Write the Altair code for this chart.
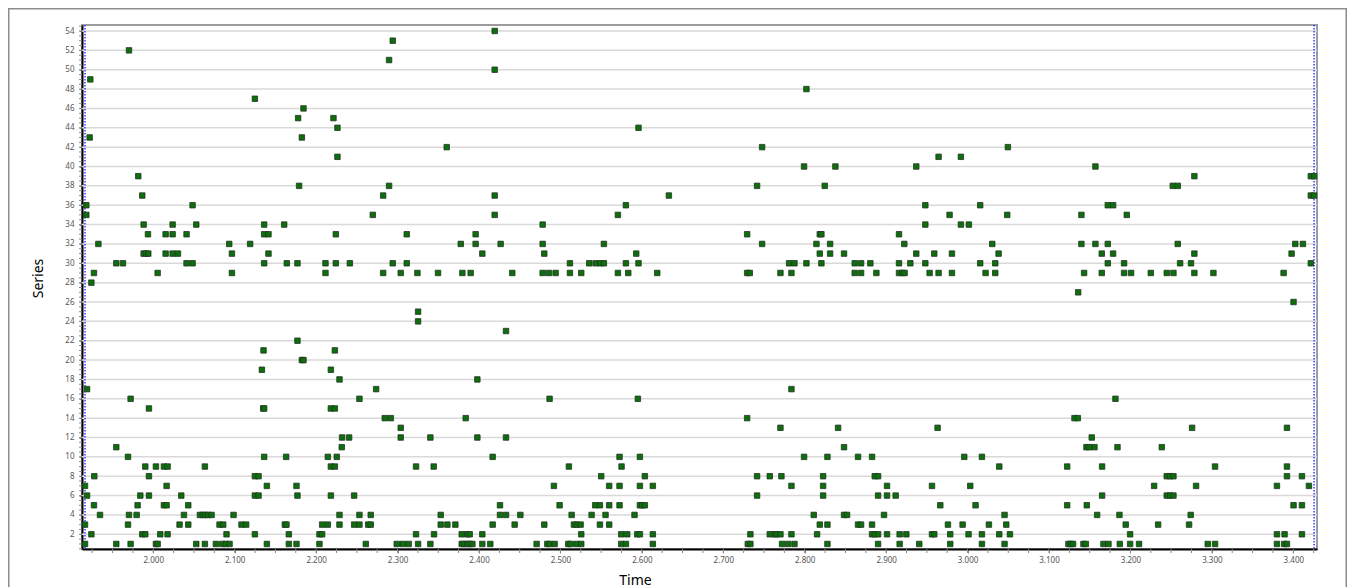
import altair as alt
import pandas as pd

# ---- data: each time stamp with the series hit at that time ----
group_times = [
    1.9162, 1.9178, 1.9187, 1.9219, 1.9227, 1.9240, 1.9272, 1.9276, 1.9326, 1.9346,
    1.9546, 1.9628, 1.9690, 1.9702, 1.9722, 1.9796, 1.9808, 1.9816, 1.9841, 1.9865,
    1.9882, 1.9902, 1.9910, 1.9935, 1.9939, 1.9947, 2.0033, 2.0054, 2.0086, 2.0131,
    2.0152, 2.0164, 2.0176, 2.0238, 2.0303, 2.0323, 2.0344, 2.0377, 2.0409, 2.0430,
    2.0483, 2.0528, 2.0573, 2.0610, 2.0634, 2.0638, 2.0675, 2.0716, 2.0769, 2.0814,
    2.0847, 2.0859, 2.0892, 2.0900, 2.0933, 2.0937, 2.0966, 2.0986, 2.1084, 2.1141,
    2.1190, 2.1248, 2.1293, 2.1334, 2.1350, 2.1354, 2.1362, 2.1395, 2.1415, 2.1608,
    2.1616, 2.1632, 2.1636, 2.1640, 2.1665,
    2.1759, 2.1771, 2.1779, 2.1791, 2.1825, 2.1845, 2.2041, 2.2074, 2.2115, 2.2144,
    2.2181, 2.2213, 2.2230, 2.2242, 2.2254, 2.2262, 2.2287, 2.2315, 2.2319, 2.2405,
    2.2414, 2.2467, 2.2532, 2.2610, 2.2639, 2.2671, 2.2696, 2.2737, 2.2823, 2.2843,
    2.2896, 2.2917, 2.2941, 2.2990, 2.3039, 2.3064, 2.3113, 2.3137, 2.3227, 2.3244,
    2.3252, 2.3403, 2.3444, 2.3448, 2.3497, 2.3530, 2.3604, 2.3612, 2.3710, 2.3776,
    2.3788, 2.3796, 2.3817, 2.3837, 2.3857, 2.3886, 2.3898, 2.3919, 2.3959, 2.3980,
    2.4041, 2.4139, 2.4168, 2.4193, 2.4258, 2.4266, 2.4332,
    2.4409, 2.4438, 2.4508, 2.4708, 2.4782, 2.4802, 2.4839, 2.4859, 2.4867, 2.4920,
    2.4929, 2.4941, 2.4990, 2.5096, 2.5104, 2.5117, 2.5125, 2.5138, 2.5166, 2.5199,
    2.5248, 2.5256, 2.5354, 2.5383, 2.5428, 2.5432, 2.5485, 2.5493, 2.5501, 2.5534,
    2.5554, 2.5599, 2.5706, 2.5726, 2.5747, 2.5751, 2.5804, 2.5820, 2.5833, 2.5910,
    2.5931, 2.5943, 2.5951, 2.5959, 2.5976, 2.6004, 2.6037, 2.6135, 2.6189, 2.6332,
    2.7293, 2.7301, 2.7325, 2.7333, 2.7415, 2.7477, 2.7571, 2.7632, 2.7653, 2.7702,
    2.7714, 2.7722, 2.7796, 2.7808, 2.7837, 2.7874, 2.7992, 2.8021, 2.8111, 2.8144,
    2.8152, 2.8185, 2.8205, 2.8226, 2.8246, 2.8279, 2.8312, 2.8377, 2.8410, 2.8483,
    2.8520, 2.8614, 2.8655, 2.8692, 2.8806, 2.8827, 2.8860, 2.8880, 2.8901, 2.8974,
    2.9011, 2.9117, 2.9158, 2.9166, 2.9199, 2.9223, 2.9227, 2.9248, 2.9297, 2.9370,
    2.9407,
    2.9481, 2.9534, 2.9563, 2.9591, 2.9632, 2.9644, 2.9665, 2.9759, 2.9779, 2.9787,
    2.9808, 2.9918, 2.9939, 2.9959, 3.0012, 3.0016, 3.0033, 3.0098, 3.0155, 3.0176,
    3.0221, 3.0262, 3.0303, 3.0340, 3.0381, 3.0389, 3.0454, 3.0475, 3.0487, 3.0495,
    3.0520, 3.1223, 3.1239, 3.1268, 3.1296, 3.1313, 3.1354, 3.1358, 3.1398, 3.1423,
    3.1431, 3.1452, 3.1460, 3.1464, 3.1493, 3.1525, 3.1558, 3.1570, 3.1591, 3.1648,
    3.1652, 3.1669, 3.1722, 3.1730, 3.1787, 3.1816, 3.1841, 3.1865, 3.1869, 3.1922,
    3.1942, 3.1955, 3.1996, 3.2008, 3.2106,
    3.2250, 3.2291, 3.2340, 3.2385, 3.2446, 3.2487, 3.2520, 3.2528, 3.2581, 3.2610,
    3.2720, 3.2740, 3.2744, 3.2757, 3.2785, 3.2806, 3.2949, 3.3019, 3.3039, 3.3799,
    3.3881, 3.3889, 3.3893, 3.3922, 3.3979, 3.4003, 3.4024, 3.4106, 3.4118, 3.4192,
    3.4215, 3.4255,
]

group_series = [
    [7, 3, 1], [36, 35], [17, 6], [43], [49], [28, 2], [29, 5], [8], [32], [4],
    [30, 11, 1], [30], [10, 3], [52, 4], [16, 1], [4], [5], [39], [6], [37, 2],
    [34, 31], [9, 2], [31], [33], [31], [15, 8, 6], [9, 1], [29, 1], [2], [9, 5],
    [33, 31], [7, 5], [9, 2], [34, 33, 31], [31], [3], [6], [4], [33, 30], [5, 3],
    [36, 30], [34, 1], [4], [4], [9, 1], [4], [4], [4], [1], [3],
    [1], [3], [1], [2], [32], [1], [31, 29], [4], [3], [3],
    [32], [47, 8, 6, 2], [8, 6], [19], [15], [21], [34, 33, 30, 15, 10], [7, 1], [33, 31], [34],
    [3], [10], [3], [30], [2, 1],
    [7, 1], [30, 22, 6], [45], [38], [43, 20], [46, 20], [2, 1], [3, 2], [30, 29], [10, 3],
    [19, 15, 9, 6], [45], [21, 15, 9], [33, 30], [10], [44, 41], [18, 4, 3], [11], [12], [12],
    [30], [6, 3], [16, 4, 3], [1], [3], [4, 3], [35], [17], [37, 29], [14],
    [51, 38], [14], [53, 30], [1], [29, 13, 12], [1], [33, 30], [1], [9, 2], [29],
    [25, 24, 1], [12, 1], [9], [2], [29], [4, 3], [42], [3], [3], [32],
    [2, 1], [29], [1], [14], [2, 1], [2, 1], [29], [1], [33, 32], [18, 12],
    [31, 2, 1], [1], [10, 3], [54, 50, 37, 35], [5, 4], [32], [23, 12, 4],
    [29], [3], [4], [1], [34, 32, 29], [31, 3], [1], [29], [16, 1], [7],
    [1], [29], [5], [1], [9], [30, 29], [1], [4], [3], [3, 1],
    [3], [29, 2, 1], [30], [4], [5], [30], [5, 3], [30], [8], [32, 30],
    [4], [7, 5, 3], [35, 29], [10, 7, 5], [2, 1], [9], [36, 30, 1], [2], [29], [4],
    [31], [2], [16], [44, 30], [10, 7, 5, 2], [5], [8, 5], [7, 2, 1], [29], [37],
    [33, 29, 14], [1], [29], [2, 1], [38, 8, 6], [42, 32], [8, 2], [2], [2], [29, 13, 2],
    [8], [1], [1], [30], [29, 17, 7, 2], [30, 1], [40, 10], [48, 30], [4], [32],
    [2], [33, 31, 3], [33, 30], [8, 7, 6], [38], [10, 3, 1], [32, 31], [40], [13], [31, 11, 4],
    [4], [30, 29], [10, 3], [30, 29, 3], [30], [10, 3, 2], [8, 2], [29], [8, 6, 2, 1], [4],
    [7, 6, 2], [6], [33, 30, 29], [2, 1], [29], [32], [29], [2], [30], [40, 31],
    [1],
    [36, 34, 30], [29], [7, 2], [31, 2], [13], [41, 29], [5], [3], [35], [2, 1],
    [31, 29], [41, 34], [3], [10], [2], [34], [7], [5], [36, 30], [10, 2, 1],
    [29], [3], [32], [30, 29], [31], [9, 2], [4, 1], [3], [35], [42],
    [2], [9, 5], [1], [1], [1], [14], [14], [27], [35, 32], [1],
    [29], [1], [11], [5], [11], [12], [11], [40, 32], [4], [31, 29],
    [9, 6], [1], [36, 32, 30], [1], [36, 31], [16], [11], [4], [1], [30, 29],
    [3], [35], [2, 1], [29], [1],
    [29], [7], [3], [11], [29, 8, 6], [8, 6], [38], [29, 8, 6], [38, 32], [30],
    [3], [4], [30], [13], [39, 31, 29], [7], [1], [29], [9, 1], [7, 2, 1],
    [29], [1], [2], [13, 9, 8, 1], [31], [26, 5], [32], [8, 5, 2], [32], [7],
    [39, 37, 30], [39, 37],
]

cursor_times = [1.9162, 3.4255]                                 # blue dotted cursors
y_label_values = list(range(2, 56, 2))                          # labelled + gridded
x_label_values = [round(2.0 + 0.1 * i, 1) for i in range(15)]   # 2.000 ... 3.400
x_minor_ticks = [round(1.925 + 0.025 * i, 3) for i in range(61)]
y_minor_ticks = [0.5 * i for i in range(1, 110)]

rows = [{"Time": t, "Series": s} for t, ss in zip(group_times, group_series) for s in ss]
df = pd.DataFrame(rows)

FONT = "Noto Sans"
W, H = 1235, 524
x_scale = alt.Scale(domain=[1.9125, 3.4291], nice=False, zero=False)
y_scale = alt.Scale(domain=[0.48, 54.62], nice=False, zero=False)

x_axis = alt.Axis(
    values=x_label_values, format=".3f",
    labelOverlap=False, labelFlush=False, grid=False,
    tickSize=4, tickColor="#8a8a8a", tickWidth=1,
    domainColor="#000000", domainWidth=2,
    labelFont=FONT, labelFontSize=8, labelColor="#555555", labelPadding=3,
    title="Time", titleFont=FONT, titleFontSize=14, titleFontWeight="normal",
    titleColor="#000000", titleX=553, titleY=35, titleAlign="center",
    titleBaseline="alphabetic",
)
y_axis = alt.Axis(
    values=y_label_values, format="d",
    labelOverlap=False, labelFlush=False, grid=False,
    tickSize=3, tickColor="#8a8a8a", tickWidth=1,
    domainColor="#000000", domainWidth=2,
    labelFont=FONT, labelFontSize=8, labelColor="#555555", labelPadding=5,
    title="Series", titleFont=FONT, titleFontSize=14, titleFontWeight="normal",
    titleColor="#000000", titleX=-44, titleY=253, titleAlign="center",
    titleBaseline="middle",
)

X = alt.X("Time:Q", scale=x_scale, axis=x_axis)
Y = alt.Y("Series:Q", scale=y_scale, axis=y_axis)

# invisible copy first: it carries the axes
points_axes = alt.Chart(df).mark_square(size=30, opacity=0).encode(x=X, y=Y)

grid = alt.Chart(pd.DataFrame({"Series": y_label_values})).mark_rule(
    color="#d9d9d9", strokeWidth=1.5
).encode(y=Y)

y_minor = alt.Chart(pd.DataFrame({"Series": y_minor_ticks})).mark_rule(
    color="#8a8a8a", strokeWidth=1
).encode(y=Y, x=alt.value(-3), x2=alt.value(0))

x_minor = alt.Chart(pd.DataFrame({"Time": x_minor_ticks})).mark_rule(
    color="#8a8a8a", strokeWidth=1
).encode(x=X, y=alt.value(H), y2=alt.value(H + 4))

cursors = alt.Chart(pd.DataFrame({"Time": cursor_times})).mark_rule(
    color="#3b3bff", strokeDash=[1.5, 1.5], strokeWidth=1.5
).encode(x=X)

frame = alt.Chart(pd.DataFrame({"a": [0]})).mark_rect(
    fillOpacity=0, stroke="#8c8c8c", strokeWidth=1.5
).encode(
    x=alt.value(-73.25), x2=alt.value(1264.25), y=alt.value(-16.25), y2=alt.value(600)
)

points = alt.Chart(df).mark_square(
    size=30, filled=True, color="#0c6e0c", stroke="#233623", strokeWidth=0.8, opacity=1
).encode(x=X, y=Y)

chart = alt.layer(points_axes, grid, y_minor, x_minor, cursors, frame, points).properties(
    width=W, height=H,
    autosize=alt.AutoSizeParams(type="none"),
    padding={"left": 74, "top": 17, "right": 30, "bottom": 38},
    background="white",
).configure_view(
    stroke="#9c9c9c", strokeWidth=2
)

chart.save("out.html", embed_options={"renderer": "svg", "actions": False})
